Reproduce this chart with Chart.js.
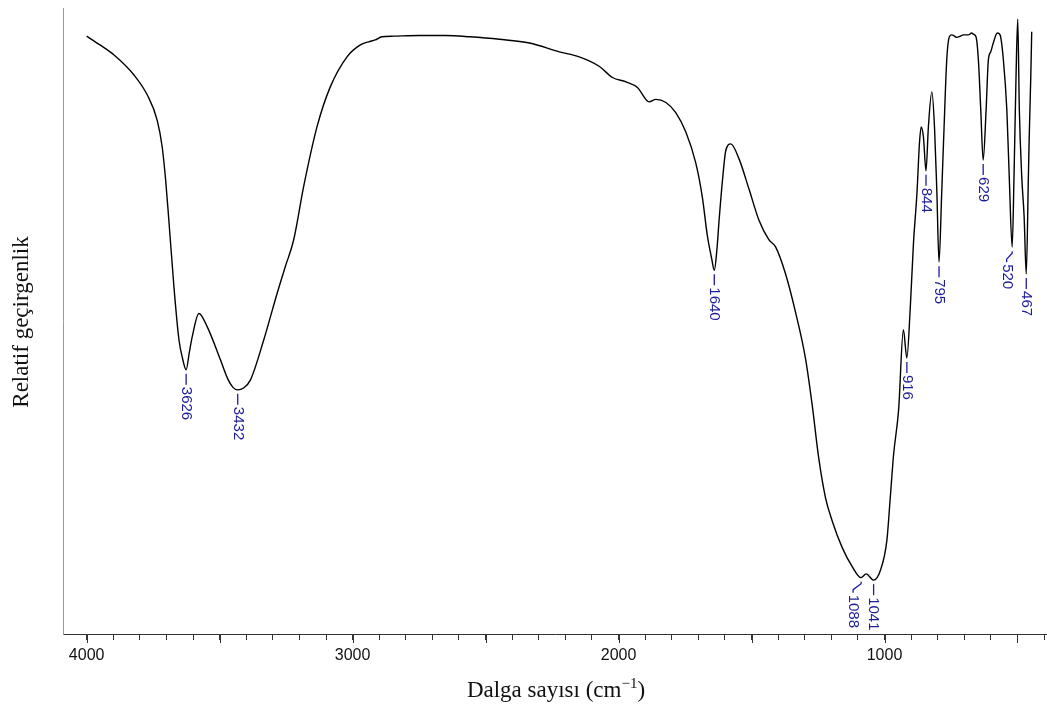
<!DOCTYPE html>
<html>
<head>
<meta charset="utf-8">
<script src="https://cdn.jsdelivr.net/npm/chart.js@4.4.1/dist/chart.umd.min.js"></script>
<style>
  html, body { margin: 0; padding: 0; background: #ffffff; }
  #wrap { width: 1047px; height: 706px; }
</style>
</head>
<body>
<div id="wrap"><canvas id="spectrum" width="1047" height="706"></canvas></div>
<script>
// FTIR spectrum: wavenumber (cm-1) and relative transmittance (arbitrary %)
const wavenumbers = [
  4000, 3950, 3897, 3822, 3772, 3735, 3716, 3703, 3691, 3672, 3653, 3640, 3626, 3614, 3603,
  3578, 3547, 3497, 3470, 3450, 3432, 3410, 3384, 3334, 3284, 3253, 3222, 3184, 3134, 3084,
  3021, 2971, 2940, 2915, 2890, 2846, 2750, 2650, 2560, 2448, 2335, 2223, 2148, 2073, 2023,
  1972, 1929, 1885, 1860, 1822, 1785, 1747, 1710, 1685, 1666, 1650, 1640, 1630, 1622, 1607,
  1597, 1578, 1547, 1509, 1472, 1435, 1409, 1372, 1334, 1297, 1272, 1247, 1222, 1197, 1159,
  1122, 1088, 1069, 1041, 1016, 991, 979, 966, 947, 929, 916, 903.5, 891, 878, 868.6,
  862, 853.6, 844, 835, 822, 812, 803, 795, 785, 776, 766, 756, 747, 740, 728,
  715, 703, 685, 672, 665, 656, 647, 638, 629, 618, 609.5, 600.5, 591, 576, 565.5,
  553, 540, 531, 520, 513, 505.5, 499, 493, 484, 475, 467, 459, 455.5, 450, 446.5
];
const transmittance = [
  95.5, 94.1, 92.5, 89.3, 86.1, 82.1, 77.8, 72.5, 66.1, 55.5, 47.0, 44.1, 42.2, 45.0, 47.5,
  51.2, 49.1, 43.8, 40.8, 39.4, 39.0, 39.3, 40.6, 47.0, 54.4, 58.7, 62.9, 71.5, 81.0, 87.4,
  92.2, 94.1, 94.6, 94.9, 95.4, 95.5, 95.6, 95.6, 95.4, 95.0, 94.4, 93.0, 92.2, 90.7, 88.9,
  88.2, 87.3, 85.0, 85.4, 84.9, 83.3, 80.2, 75.3, 69.8, 63.6, 60.0, 58.1, 61.5, 66.1, 73.5,
  77.2, 78.3, 75.9, 71.0, 66.1, 63.0, 61.8, 57.5, 51.3, 44.0, 36.6, 28.0, 21.8, 18.1, 13.8,
  10.8, 9.0, 9.6, 8.6, 10.1, 15.0, 21.4, 28.6, 35.8, 48.6, 44.1, 51.8, 62.5, 70.4, 78.4,
  81.0, 79.4, 74.0, 81.0, 86.6, 81.0, 70.4, 59.4, 70.4, 81.0, 91.7, 95.4, 95.7, 95.6, 95.3,
  95.5, 95.7, 95.7, 96.0, 95.8, 95.4, 91.7, 83.7, 75.7, 83.7, 91.7, 93.0, 94.4, 96.0, 95.7,
  91.7, 83.7, 73.1, 61.8, 73.1, 89.0, 98.2, 83.7, 73.1, 66.7, 57.5, 73.1, 80.0, 89.0, 96.2
];
// Band positions annotated on the spectrum
const peakLabels = [3626, 3432, 1640, 1088, 1041, 916, 844, 795, 629, 520, 467];
// Labelled ticks of the wavenumber axis
const axisLabels = [4000, 3000, 2000, 1000];

// Minor ticks every 100 cm-1, longer ones every 500 cm-1
const minorTicks = [];
for (let v = 400; v <= 4000; v += 100) minorTicks.push(v);

// Horizontal shift of a label when its leader line has to bend aside
const leaderShift = { 1088: -8, 520: -5.5 };
const LABEL_COLOR = '#1c1c9c';

const annotate = {
  id: 'annotate',
  afterDraw(chart) {
    const ctx = chart.ctx;
    const xs = chart.scales.x, ys = chart.scales.y;
    const area = chart.chartArea;

    // longer ticks every 500 cm-1
    ctx.save();
    ctx.strokeStyle = '#333';
    ctx.lineWidth = 1;
    minorTicks.filter(v => v % 500 === 0).forEach(v => {
      const px = Math.round(xs.getPixelForValue(v)) + 0.5;
      ctx.beginPath();
      ctx.moveTo(px, area.bottom);
      ctx.lineTo(px, area.bottom + 9);
      ctx.stroke();
    });
    ctx.restore();

    // band labels, rotated, hanging under each minimum
    ctx.save();
    ctx.strokeStyle = LABEL_COLOR;
    ctx.fillStyle = LABEL_COLOR;
    ctx.lineWidth = 1.3;
    ctx.font = '15px "Liberation Sans", Arial, sans-serif';
    ctx.textBaseline = 'middle';
    ctx.textAlign = 'left';
    peakLabels.forEach(wn => {
      const i = wavenumbers.indexOf(wn);
      const px = xs.getPixelForValue(wn);
      const py = ys.getPixelForValue(transmittance[i]);
      const shift = leaderShift[wn] || 0;
      const tx = px + shift;
      const y0 = py + 4;
      ctx.beginPath();
      if (shift) {
        ctx.moveTo(px, y0);
        ctx.lineTo(px, y0 + 2);
        ctx.lineTo(tx, y0 + 8);
        ctx.lineTo(tx, y0 + 11);
      } else {
        ctx.moveTo(px, y0);
        ctx.lineTo(px, y0 + 11);
      }
      ctx.stroke();
      ctx.save();
      ctx.translate(tx, y0 + 13);
      ctx.rotate(Math.PI / 2);
      ctx.fillText(String(wn), 0, 0);
      ctx.restore();
    });
    ctx.restore();

    // axis titles
    ctx.save();
    ctx.fillStyle = '#111';
    ctx.textBaseline = 'alphabetic';
    const main = 'Dalga sayısı (cm';
    const sup = '\u22121';
    const close = ')';
    const big = '23px "Liberation Serif", "Times New Roman", serif';
    const small = '15px "Liberation Serif", "Times New Roman", serif';
    ctx.font = big;
    const wMain = ctx.measureText(main).width;
    const wClose = ctx.measureText(close).width;
    ctx.font = small;
    const wSup = ctx.measureText(sup).width;
    const total = wMain + wSup + wClose;
    const cx = 556, base = 697;
    let x = cx - total / 2;
    ctx.textAlign = 'left';
    ctx.font = big;
    ctx.fillText(main, x, base);
    x += wMain;
    ctx.font = small;
    ctx.fillText(sup, x, base - 9);
    x += wSup;
    ctx.font = big;
    ctx.fillText(close, x, base);

    ctx.translate(28, 322);
    ctx.rotate(-Math.PI / 2);
    ctx.textAlign = 'center';
    ctx.font = big;
    ctx.fillText('Relatif geçirgenlik', 0, 0);
    ctx.restore();
  }
};

new Chart(document.getElementById('spectrum'), {
  type: 'line',
  data: {
    datasets: [{
      data: wavenumbers.map((w, i) => ({ x: w, y: transmittance[i] })),
      borderColor: '#000000',
      borderWidth: 1.4,
      pointRadius: 0,
      fill: false,
      cubicInterpolationMode: 'monotone'
    }]
  },
  options: {
    responsive: false,
    animation: false,
    layout: { padding: { top: 8, right: 0, bottom: 0, left: 0 } },
    plugins: { legend: { display: false }, tooltip: { enabled: false } },
    scales: {
      x: {
        type: 'linear',
        reverse: true,
        min: 389,
        max: 4089,
        afterBuildTicks(scale) {
          scale.ticks = minorTicks.map(v => ({ value: v }));
        },
        afterFit(scale) {
          scale.height = 72;
          scale.paddingLeft = 0;
          scale.paddingRight = 0;
        },
        border: { color: '#333', width: 1 },
        grid: { drawOnChartArea: false, drawTicks: true, tickLength: 6, tickColor: '#333' },
        ticks: {
          autoSkip: false,
          maxRotation: 0,
          minRotation: 0,
          padding: 6,
          color: '#111',
          font: { family: '"Liberation Sans", Arial, sans-serif', size: 16 },
          callback: v => axisLabels.includes(v) ? String(v) : ''
        }
      },
      y: {
        min: 0,
        max: 100,
        afterFit(scale) {
          scale.width = 63;
          scale.paddingTop = 0;
          scale.paddingBottom = 0;
        },
        border: { color: '#999', width: 1 },
        grid: { display: false },
        ticks: { display: false }
      }
    }
  },
  plugins: [annotate]
});
</script>
</body>
</html>
